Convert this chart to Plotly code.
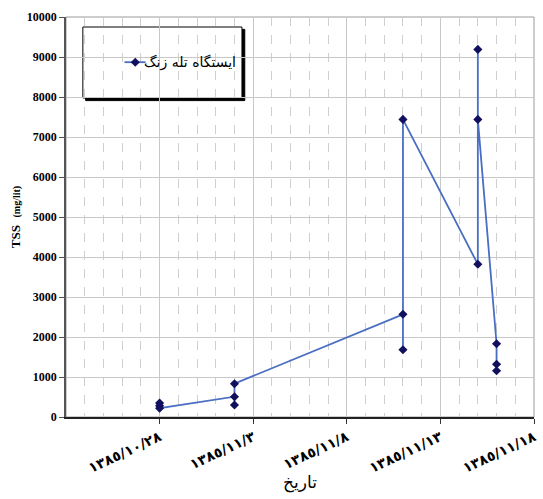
import plotly.graph_objects as go

# ---- data ----
dates = ["1385/10/28", "1385/10/28", "1385/10/28",
         "1385/11/02", "1385/11/02", "1385/11/02",
         "1385/11/11", "1385/11/11", "1385/11/11",
         "1385/11/15", "1385/11/15", "1385/11/15",
         "1385/11/16", "1385/11/16", "1385/11/16"]
tss = [350, 280, 220,
       508, 300, 833,
       2567, 1683, 7440,
       3817, 9190, 7440,
       1833, 1317, 1158]
tick_dates = ["1385/10/28", "1385/11/3", "1385/11/8", "1385/11/13", "1385/11/18"]
range_dates = ["1385/10/23", "1385/11/18"]
series_name = "ایستگاه تله زنگ"
x_title = "تاریخ"
y_title = "<span style='font-size:13px'>TSS</span>   (mg/lit)"

MONTH_LEN = [31, 31, 31, 31, 31, 31, 30, 30, 30, 30, 30, 29]


def day_num(s):
    y, m, d = [int(p) for p in s.split("/")]
    return sum(MONTH_LEN[:m - 1]) + d


def ar_digits(s):
    return s.translate(str.maketrans("0123456789", "٠١٢٣٤٥٦٧٨٩"))


xs = [day_num(d) for d in dates]
tickvals = [day_num(d) for d in tick_dates]
ticktext = [ar_digits(d) for d in tick_dates]
xr = [day_num(d) for d in range_dates]

LINE = "#4a6ec2"
MARK = "#10105e"

fig = go.Figure()
fig.add_trace(go.Scatter(
    x=xs, y=tss, mode="lines+markers", name=series_name,
    line=dict(color=LINE, width=1.8),
    marker=dict(symbol="diamond", size=7, color=MARK),
    showlegend=False,
))

# legend sample (line + marker) drawn on a hidden 0..1 overlay axis
fig.add_trace(go.Scatter(
    x=[0.125, 0.148, 0.17], y=[0.887] * 3, mode="lines",
    line=dict(color=LINE, width=1.8), xaxis="x2", yaxis="y2",
    showlegend=False, hoverinfo="skip"))
fig.add_trace(go.Scatter(
    x=[0.148], y=[0.887], mode="markers",
    marker=dict(symbol="diamond", size=7, color=MARK), xaxis="x2", yaxis="y2",
    showlegend=False, hoverinfo="skip"))

serif = "Liberation Serif, Times New Roman, DejaVu Serif"
arab = "DejaVu Sans, Noto Sans, sans-serif"

fig.update_layout(
    width=543, height=499,
    margin=dict(l=66, r=9, t=17, b=82, autoexpand=False),
    paper_bgcolor="white", plot_bgcolor="white",
    xaxis=dict(
        range=xr, tickmode="array", tickvals=tickvals, ticktext=ticktext,
        tickangle=-25, tickfont=dict(family=arab, size=14, color="black", weight="bold"),
        ticks="outside", ticklen=5, tickcolor="#333",
        showgrid=True, gridcolor="#c8c8c8", gridwidth=1,
        minor=dict(dtick=1, tick0=xr[0], showgrid=True, gridcolor="#cfcfcf",
                   griddash="dash", gridwidth=1, ticks=""),
        showline=True, linecolor="#222", linewidth=1.5,
        zeroline=False, automargin=False,
        title=dict(text=x_title, font=dict(family=arab, size=17, color="black"), standoff=0),
    ),
    yaxis=dict(
        range=[0, 10000], dtick=1000, tickformat="d",
        tickfont=dict(family=serif, size=12, color="black", weight="bold"),
        ticks="outside", ticklen=5, tickcolor="#555",
        showgrid=True, gridcolor="#c8c8c8", gridwidth=1,
        showline=True, linecolor="#555", linewidth=1.5,
        zeroline=False, automargin=False,
        title=dict(text=y_title, font=dict(family=serif, size=10, color="black", weight="bold"), standoff=4),
    ),
    xaxis2=dict(domain=[0, 1], range=[0, 1], overlaying="x", visible=False, fixedrange=True),
    yaxis2=dict(domain=[0, 1], range=[0, 1], overlaying="y", visible=False, fixedrange=True,
                anchor="x2"),
    showlegend=False,
)

# plot frame (top, right) in gray
fig.add_shape(type="rect", xref="paper", yref="paper", x0=0, x1=1, y0=0, y1=1,
              line=dict(color="#9a9a9a", width=1), layer="below")

# legend box with shadow
fig.add_shape(type="rect", xref="paper", yref="paper",
              x0=0.042, x1=0.382, y0=0.791, y1=0.969,
              fillcolor="black", line=dict(color="black", width=1), layer="between")
fig.add_shape(type="rect", xref="paper", yref="paper",
              x0=0.036, x1=0.376, y0=0.7975, y1=0.975,
              fillcolor="white", line=dict(color="black", width=1), layer="between")
fig.add_annotation(xref="paper", yref="paper", x=0.368, y=0.887,
                   xanchor="right", yanchor="middle", showarrow=False,
                   text=series_name, font=dict(family=arab, size=14, color="black"))

fig.write_html("out.html", config={"displayModeBar": False},
               post_script="document.body.style.margin='0';")
